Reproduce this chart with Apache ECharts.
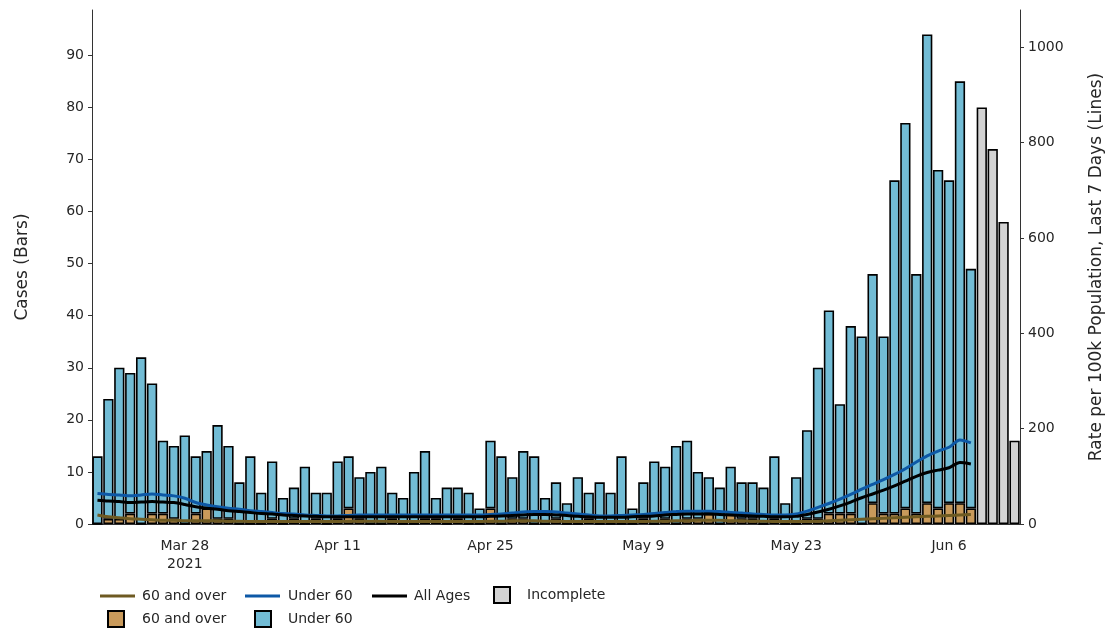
<!DOCTYPE html>
<html>
<head>
<meta charset="utf-8">
<script src="https://cdn.jsdelivr.net/npm/echarts@6/dist/echarts.min.js"></script>
<style>
  html, body { margin: 0; padding: 0; background: #fff; }
  #chart { width: 1107px; height: 630px; }
</style>
</head>
<body>
<div id="chart"></div>
<script>
// days, Mar 20 - Jun 12 2021
var dates = [
  'Mar 20', 'Mar 21', 'Mar 22', 'Mar 23', 'Mar 24', 'Mar 25', 'Mar 26', 'Mar 27', 'Mar 28', 'Mar 29', 'Mar 30', 'Mar 31',
  'Apr 1', 'Apr 2', 'Apr 3', 'Apr 4', 'Apr 5', 'Apr 6', 'Apr 7', 'Apr 8', 'Apr 9', 'Apr 10', 'Apr 11', 'Apr 12', 'Apr 13',
  'Apr 14', 'Apr 15', 'Apr 16', 'Apr 17', 'Apr 18', 'Apr 19', 'Apr 20', 'Apr 21', 'Apr 22', 'Apr 23', 'Apr 24', 'Apr 25',
  'Apr 26', 'Apr 27', 'Apr 28', 'Apr 29', 'Apr 30',
  'May 1', 'May 2', 'May 3', 'May 4', 'May 5', 'May 6', 'May 7', 'May 8', 'May 9', 'May 10', 'May 11', 'May 12', 'May 13',
  'May 14', 'May 15', 'May 16', 'May 17', 'May 18', 'May 19', 'May 20', 'May 21', 'May 22', 'May 23', 'May 24', 'May 25',
  'May 26', 'May 27', 'May 28', 'May 29', 'May 30', 'May 31',
  'Jun 1', 'Jun 2', 'Jun 3', 'Jun 4', 'Jun 5', 'Jun 6', 'Jun 7', 'Jun 8', 'Jun 9', 'Jun 10', 'Jun 11', 'Jun 12'
]

// x tick labels (category -> label)
var xTickLabels = {
  'Mar 28': 'Mar 28\n2021',
  'Apr 11': 'Apr 11',
  'Apr 25': 'Apr 25',
  'May 9': 'May 9',
  'May 23': 'May 23',
  'Jun 6': 'Jun 6'
}
var leftTicks = [0, 10, 20, 30, 40, 50, 60, 70, 80, 90]
var rightTicks = [0, 200, 400, 600, 800, 1000]

// cases (bars)
var casesOver60 = [
  0, 1, 1, 2, 0, 2, 2, 1, 0, 2, 3, 1, 1, 0, 0, 0, 1, 0, 1, 0, 1, 0, 1,
  3, 1, 0, 0, 1, 0, 0, 1, 1, 0, 1, 0, 0, 3,
  0, 1, 1, 0, 0, 1, 0,
  0, 1, 0, 0, 0, 0, 1, 0, 1, 0, 1, 1, 2, 0, 2, 1, 1, 0, 1, 0, 0,
  1, 1, 2, 2, 2, 0, 4, 2, 2, 3, 2, 4, 3, 4, 4, 3,
  null, null, null, null
]
var casesUnder60 = [
  13, 23, 29, 27, 32, 25, 14, 14, 17, 11, 11, 18, 14, 8, 13, 6, 11, 5, 6, 11, 5, 6, 11,
  10, 8, 10, 11, 5, 5, 10, 13, 4, 7, 6, 6, 3, 13,
  13, 8, 13, 13, 5, 7, 4,
  9, 5, 8, 6, 13, 3, 7, 12, 10, 15, 15, 9, 7, 7, 9, 7, 7, 7, 12, 4, 9,
  17, 29, 39, 21, 36, 36, 44, 34, 64, 74, 46, 90, 65, 62, 81, 46,
  null, null, null, null
]
var casesIncomplete = [
  null, null, null, null, null, null, null, null, null, null, null, null, null, null, null, null, null, null, null, null,
  null, null, null, null, null, null, null, null, null, null, null, null, null, null, null, null, null, null, null, null,
  null, null, null, null, null, null, null, null, null, null, null, null, null, null, null, null, null, null, null, null,
  null, null, null, null, null, null, null, null, null, null, null, null, null, null, null, null, null, null, null, null,
  null,
  80, 72, 58, 16
]

// rate per 100k, last 7 days (lines)
var rateOver60 = [
  19, 15, 13, 11, 10, 9, 8, 8, 7, 7, 7, 7, 6, 6, 5, 5, 5, 5, 5, 5, 5, 5, 5,
  6, 6, 6, 6, 5, 5, 5, 5, 5, 5, 5, 5, 5, 6,
  6, 7, 7, 7, 6, 6, 5,
  5, 5, 5, 5, 5, 5, 5, 6, 6, 7, 7, 8, 8, 8, 7, 7, 6, 6, 5, 5, 5,
  5, 6, 7, 8, 9, 10, 11, 12, 13, 14, 15, 16, 17, 18, 19, 20
]
var rateUnder60 = [
  64, 62, 61, 59, 61, 63, 61, 59, 54, 45, 40, 36, 33, 31, 28, 26, 24, 22, 21, 19, 18, 17, 17,
  18, 19, 19, 19, 19, 19, 19, 19, 19, 19, 19, 19, 19, 20,
  21, 23, 25, 26, 26, 25, 23,
  21, 19, 17, 17, 18, 19, 20, 22, 24, 26, 27, 27, 27, 26, 24, 23, 21, 20, 19, 19, 21,
  27, 35, 43, 52, 62, 73, 83, 93, 104, 116, 130, 143, 153, 161, 176, 170
]
var rateAll = [
  50, 48, 47, 45, 46, 47, 46, 45, 41, 36, 33, 31, 28, 26, 24, 22, 21, 19, 18, 17, 16, 15, 15,
  15, 15, 15, 15, 15, 15, 15, 15, 15, 15, 15, 15, 15, 16,
  17, 18, 19, 20, 20, 19, 18,
  16, 15, 14, 14, 14, 15, 16, 17, 19, 20, 21, 21, 21, 20, 19, 18, 17, 16, 15, 15, 16,
  20, 25, 31, 38, 46, 55, 63, 71, 80, 90, 100, 108, 113, 118, 129, 126
]

var legendNames = {
  line60: '60 and over',
  lineU60: 'Under 60',
  lineAll: 'All Ages',
  incomplete: 'Incomplete',
  bar60: '60 and over',
  barU60: 'Under 60'
}

var textColor = '#262626'
var axisColor = '#333'
var font = 'DejaVu Sans'
var boxIcon = 'path://M0,0H16V16H0Z'
var lineIcon = 'path://M0,0H35V3H0Z'

function legendAt(name, left, top, icon, width, textPad) {
  return {
    data: [name],
    left: left,
    top: top,
    icon: icon,
    itemWidth: width,
    itemHeight: 16,
    itemGap: 0,
    selectedMode: false,
    textStyle: { color: textColor, fontSize: 14, fontFamily: font, padding: [0, 0, 0, textPad] },
    formatter: function(n) { return legendNames[n] }
  }
}

var chart = echarts.init(document.getElementById('chart'))

var option = {
  animation: false,
  backgroundColor: '#fff',
  grid: { left: 92, right: 87, top: 10, bottom: 106, outerBoundsMode: 'none', containLabel: false },
  legend: [
    legendAt('line60', 95, 584, lineIcon, 35, 2),
    legendAt('lineU60', 240, 584, lineIcon, 35, 3),
    legendAt('lineAll', 367, 584, lineIcon, 35, 2),
    legendAt('incomplete', 488, 581, boxIcon, 36, 2),
    legendAt('bar60', 102, 605, boxIcon, 36, 3),
    legendAt('barU60', 249, 605, boxIcon, 36, 2)
  ],
  xAxis: {
    type: 'category',
    data: dates,
    boundaryGap: true,
    axisLine: { lineStyle: { color: axisColor, width: 1 } },
    axisTick: {
      alignWithLabel: true,
      length: 4,
      lineStyle: { color: axisColor },
      interval: function(i, v) { return xTickLabels[v] !== undefined }
    },
    axisLabel: {
      interval: function(i, v) { return xTickLabels[v] !== undefined },
      formatter: function(v) { return xTickLabels[v] || '' },
      color: textColor,
      fontSize: 14,
      fontFamily: font,
      lineHeight: 18,
      margin: 13
    },
    splitLine: { show: false }
  },
  yAxis: [
    {
      type: 'value',
      min: 0,
      max: 98.7,
      interval: 10,
      name: 'Cases (Bars)',
      nameLocation: 'middle',
      nameRotate: 90,
      nameGap: 61,
      nameTextStyle: { color: textColor, fontSize: 17, fontFamily: font },
      axisLine: { show: true, lineStyle: { color: axisColor, width: 1 } },
      axisTick: { show: true, length: 4, lineStyle: { color: axisColor }, customValues: leftTicks },
      axisLabel: {
        color: textColor, fontSize: 14, fontFamily: font, margin: 8, customValues: leftTicks,
        formatter: function(v) { return String(v) }
      },
      splitLine: { show: false }
    },
    {
      type: 'value',
      min: 0,
      max: 1078,
      interval: 200,
      name: 'Rate per 100k Population, Last 7 Days (Lines)',
      nameLocation: 'middle',
      nameRotate: 90,
      nameGap: 68,
      nameTextStyle: { color: textColor, fontSize: 17, fontFamily: font },
      axisLine: { show: true, lineStyle: { color: axisColor, width: 1 } },
      axisTick: { show: true, length: 4, lineStyle: { color: axisColor }, customValues: rightTicks },
      axisLabel: {
        color: textColor, fontSize: 14, fontFamily: font, margin: 8, customValues: rightTicks,
        formatter: function(v) { return String(v) }
      },
      splitLine: { show: false }
    }
  ],
  series: [
    {
      name: 'bar60',
      type: 'bar',
      stack: 'cases',
      data: casesOver60,
      barCategoryGap: '6%',
      itemStyle: { color: '#c99a5b', borderColor: '#000', borderWidth: 1.6 }
    },
    {
      name: 'barU60',
      type: 'bar',
      stack: 'cases',
      data: casesUnder60,
      itemStyle: { color: '#72bcd5', borderColor: '#000', borderWidth: 1.6 }
    },
    {
      name: 'incomplete',
      type: 'bar',
      stack: 'cases',
      data: casesIncomplete,
      itemStyle: { color: '#d3d3d3', borderColor: '#000', borderWidth: 1.6 }
    },
    {
      name: 'line60',
      type: 'line',
      yAxisIndex: 1,
      data: rateOver60,
      symbol: 'none',
      smooth: 0.3,
      lineStyle: { color: '#6e5a22', width: 3 },
      itemStyle: { color: '#6e5a22' },
      z: 5
    },
    {
      name: 'lineU60',
      type: 'line',
      yAxisIndex: 1,
      data: rateUnder60,
      symbol: 'none',
      smooth: 0.3,
      lineStyle: { color: '#0d58a6', width: 3 },
      itemStyle: { color: '#0d58a6' },
      z: 5
    },
    {
      name: 'lineAll',
      type: 'line',
      yAxisIndex: 1,
      data: rateAll,
      symbol: 'none',
      smooth: 0.3,
      lineStyle: { color: '#000', width: 3 },
      itemStyle: { color: '#000' },
      z: 6
    }
  ]
}

chart.setOption(option)
</script>
</body>
</html>
